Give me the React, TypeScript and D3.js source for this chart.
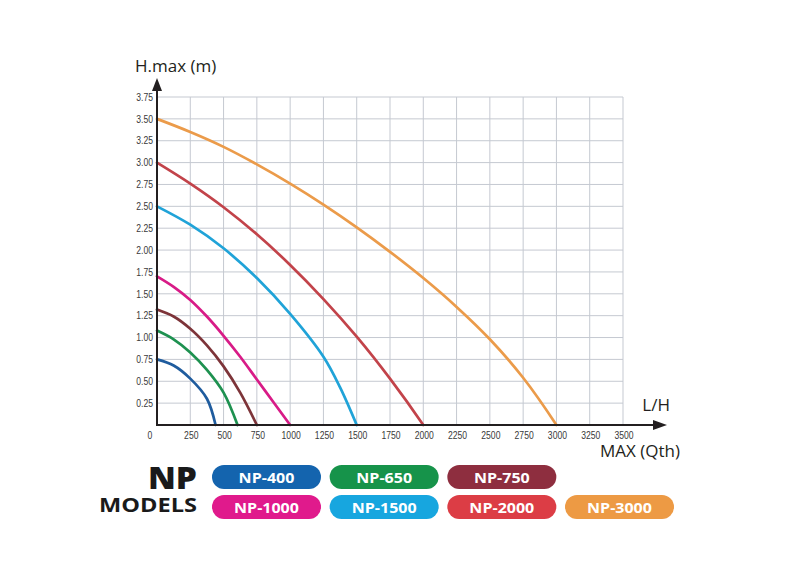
import * as d3 from "d3";

// pump models, in legend order
const models = ["NP-400", "NP-650", "NP-750", "NP-1000", "NP-1500", "NP-2000", "NP-3000"];
const lineColors = ["#1f5c9e", "#1e9150", "#7d3439", "#d81b87", "#20a3d8", "#c2434a", "#eb9b4a"];
const pillColors = ["#1464ae", "#16934a", "#8e2e3f", "#e01a8c", "#17a6df", "#dc3d45", "#ed9a44"];

// flow (L/H) and head (m)
const flowNP400 = [0, 125, 250, 375, 440];
const headNP400 = [0.75, 0.68, 0.53, 0.3, 0];
const flowNP650 = [0, 125, 250, 375, 500, 605];
const headNP650 = [1.08, 0.98, 0.83, 0.63, 0.37, 0];
const flowNP750 = [0, 125, 250, 375, 500, 625, 750];
const headNP750 = [1.32, 1.24, 1.1, 0.91, 0.67, 0.37, 0];
const flowNP1000 = [0, 125, 250, 375, 500, 625, 750, 875, 1000];
const headNP1000 = [1.7, 1.58, 1.43, 1.24, 1.02, 0.78, 0.52, 0.26, 0];
const flowNP1500 = [0, 250, 500, 750, 1000, 1250, 1375, 1500];
const headNP1500 = [2.5, 2.29, 2.02, 1.68, 1.27, 0.78, 0.43, 0];
const flowNP2000 = [0, 250, 500, 750, 1000, 1250, 1500, 1750, 2000];
const headNP2000 = [3.0, 2.76, 2.49, 2.18, 1.83, 1.44, 1.01, 0.53, 0];
const flowNP3000 = [0, 250, 500, 750, 1000, 1250, 1500, 1750, 2000, 2250, 2500, 2750, 3000];
const headNP3000 = [3.5, 3.35, 3.18, 2.98, 2.76, 2.52, 2.26, 1.98, 1.68, 1.35, 0.98, 0.54, 0];

const flows = [flowNP400, flowNP650, flowNP750, flowNP1000, flowNP1500, flowNP2000, flowNP3000];
const heads = [headNP400, headNP650, headNP750, headNP1000, headNP1500, headNP2000, headNP3000];

const xTicks = [0, 250, 500, 750, 1000, 1250, 1500, 1750, 2000, 2250, 2500, 2750, 3000, 3250, 3500];
const yTicks = [0.25, 0.5, 0.75, 1.0, 1.25, 1.5, 1.75, 2.0, 2.25, 2.5, 2.75, 3.0, 3.25, 3.5, 3.75];

// legend rows (indexes into models)
const legendRows = [
  [0, 1, 2],
  [3, 4, 5, 6],
];

const W = 800;
const H = 582;

export default function App() {
  const x = d3.scaleLinear().domain([0, 3500]).range([157, 623]);
  const y = d3.scaleLinear().domain([0, 3.75]).range([425, 97]);

  const line = d3
    .line<[number, number]>()
    .x((d) => x(d[0]))
    .y((d) => y(d[1]))
    .curve(d3.curveCatmullRom.alpha(0.5));

  const col = d3.scaleLinear().domain([0, 3]).range([212, 565]);
  const row = d3.scaleLinear().domain([0, 1]).range([465, 495]);
  const pillW = 109;
  const pillH = 24;

  const tickFont = "'Liberation Sans', Arial, sans-serif";
  const labelFont = "'Open Sans', 'Noto Sans', Arial, sans-serif";

  return (
    <svg
      width={W}
      height={H}
      style={{ position: "absolute", left: 0, top: 0, background: "#fff" }}
    >
      {/* grid */}
      <g stroke="#c5c9d1" strokeWidth={1}>
        {xTicks.slice(1).map((t) => (
          <line key={"gx" + t} x1={x(t)} x2={x(t)} y1={y(3.75)} y2={y(0)} />
        ))}
        {yTicks.map((t) => (
          <line key={"gy" + t} x1={x(0)} x2={x(3500)} y1={y(t)} y2={y(t)} />
        ))}
      </g>

      {/* curves */}
      {models.map((m, i) => (
        <path
          key={m}
          d={line(flows[i].map((f, j) => [f, heads[i][j]] as [number, number])) ?? ""}
          fill="none"
          stroke={lineColors[i]}
          strokeWidth={2.7}
          strokeLinecap="round"
          strokeLinejoin="round"
        />
      ))}

      {/* axes with arrows */}
      <g stroke="#231f20" strokeWidth={2}>
        <line x1={x(0)} x2={x(0)} y1={y(0) + 1} y2={86} />
        <line x1={x(0) - 1} x2={656} y1={y(0)} y2={y(0)} />
      </g>
      <path d={`M${x(0)},78 L${x(0) - 5},91 L${x(0) + 5},91 Z`} fill="#231f20" />
      <path d={`M667,${y(0)} L653,${y(0) - 5} L653,${y(0) + 5} Z`} fill="#231f20" />

      {/* tick labels, horizontally condensed */}
      <g fontFamily={tickFont} fontSize={10.5} fill="#3a3a3a">
        {yTicks.map((t) => (
          <text
            key={"ty" + t}
            transform={`translate(153,${y(t) + 3.7}) scale(0.82,1)`}
            textAnchor="end"
          >
            {t.toFixed(2)}
          </text>
        ))}
        {xTicks.map((t) => (
          <text
            key={"tx" + t}
            transform={`translate(${t === 0 ? 150 : x(t) + 1},439) scale(0.82,1)`}
            textAnchor="middle"
          >
            {t}
          </text>
        ))}
      </g>

      {/* axis titles */}
      <g fontFamily={labelFont} fontSize={17} fill="#231f20">
        <text x={135} y={72}>H.max (m)</text>
        <text x={670} y={411} textAnchor="end">L/H</text>
        <text x={680} y={457} textAnchor="end">MAX (Qth)</text>
      </g>

      {/* legend */}
      <text
        x={148}
        y={489}
        textLength={49}
        lengthAdjust="spacingAndGlyphs"
        fontFamily={labelFont}
        fontWeight={800}
        fontSize={30}
        fill="#1a1a1a"
      >
        NP
      </text>
      <text
        x={99}
        y={512}
        textLength={98}
        lengthAdjust="spacingAndGlyphs"
        fontFamily={labelFont}
        fontWeight={700}
        fontSize={20}
        fill="#1a1a1a"
      >
        MODELS
      </text>
      {legendRows.map((r, ri) =>
        r.map((mi, ci) => (
          <g key={models[mi]} transform={`translate(${col(ci)},${row(ri)})`}>
            <rect width={pillW} height={pillH} rx={12} fill={pillColors[mi]} />
            <text
              transform={`translate(${pillW / 2},${pillH / 2 + 5.5}) scale(1.07,1)`}
              textAnchor="middle"
              fontFamily={labelFont}
              fontWeight={700}
              fontSize={15}
              fill="#fff"
            >
              {models[mi]}
            </text>
          </g>
        ))
      )}
    </svg>
  );
}
